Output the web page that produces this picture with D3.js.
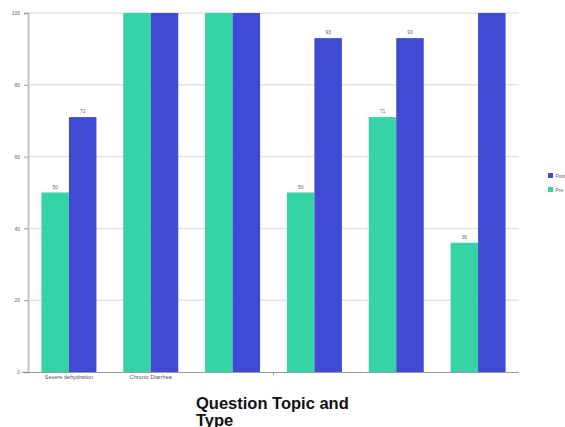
<!DOCTYPE html>
<html>
<head>
<meta charset="utf-8">
<script src="https://cdn.jsdelivr.net/npm/d3@7"></script>
<style>
  html, body { margin: 0; padding: 0; background: #fff; }
  svg { display: block; }
</style>
</head>
<body>
<svg id="chart" width="565" height="427"></svg>
<script>
// Question groups (only the first two carry a visible label)
const groups = ["g1", "g2", "g3", "g4", "g5", "g6"];
const groupLabels = ["Severe dehydration", "Chronic Diarrhea", "", "", "", ""];
// Scores per group, in percent
const preValues = [50, 100, 100, 50, 71, 36];
const postValues = [71, 100, 100, 93, 93, 100];
// Values printed above bars (null = no label)
const preLabels = [50, null, null, 50, 71, 36];
const postLabels = [71, null, null, 93, 93, null];
const seriesNames = ["Pre", "Post"];
const yTicks = [0, 20, 40, 60, 80, 100];

const colors = { Pre: "#35d3a5", Post: "#404ad2" };

const svg = d3.select("#chart");
const plotLeft = 28, plotRight = 519, plotTop = 13, plotBottom = 372;

const x = d3.scaleBand().domain(groups).range([plotLeft, plotRight])
  .paddingInner(0.328).paddingOuter(0.164);
const xSub = d3.scaleBand().domain(seriesNames).range([0, x.bandwidth()]);
const y = d3.scaleLinear().domain([0, 100]).range([plotBottom, plotTop]);

// horizontal grid
svg.append("g")
  .selectAll("line").data(yTicks.filter(d => d > 0)).join("line")
  .attr("x1", plotLeft).attr("x2", plotRight)
  .attr("y1", d => y(d)).attr("y2", d => y(d))
  .attr("stroke", "#e4e4e4").attr("stroke-width", 1.5);

// bars
const rows = groups.map((g, i) => ({ g, i }));
const series = [
  { name: "Pre", values: preValues, labels: preLabels },
  { name: "Post", values: postValues, labels: postLabels }
];
series.forEach(s => {
  svg.append("g").selectAll("rect").data(rows).join("rect")
    .attr("x", d => x(d.g) + xSub(s.name))
    .attr("y", d => y(s.values[d.i]))
    .attr("width", xSub.bandwidth())
    .attr("height", d => y(0) - y(s.values[d.i]))
    .attr("fill", colors[s.name]);
  svg.append("g").selectAll("text").data(rows.filter(d => s.labels[d.i] !== null)).join("text")
    .attr("x", d => x(d.g) + xSub(s.name) + xSub.bandwidth() / 2)
    .attr("y", d => y(s.labels[d.i]) - 4)
    .attr("text-anchor", "middle")
    .attr("font-family", "Liberation Sans, Arial, sans-serif")
    .attr("font-size", 5)
    .attr("fill", "#666")
    .text(d => s.labels[d.i]);
});

// y axis
const yAxis = svg.append("g").attr("transform", `translate(${plotLeft},0)`)
  .call(d3.axisLeft(y).tickValues(yTicks).tickSize(4).tickPadding(4));
yAxis.select(".domain").attr("stroke", "#c4c4c4").attr("stroke-width", 2);
yAxis.selectAll(".tick line").attr("stroke", "#999");
yAxis.selectAll("text").attr("font-family", "Liberation Sans, Arial, sans-serif")
  .attr("font-size", 5).attr("fill", "#666");

// x axis
const xAxis = svg.append("g").attr("transform", `translate(0,${plotBottom})`)
  .call(d3.axisBottom(x).tickFormat((d, i) => groupLabels[i]).tickSize(0).tickPadding(3));
xAxis.select(".domain").attr("d", `M${plotLeft - 6},0.5H${plotRight}`)
  .attr("stroke", "#999").attr("stroke-width", 1.2);
xAxis.selectAll("text").attr("font-family", "Liberation Sans, Arial, sans-serif")
  .attr("font-size", 5.6).attr("fill", "#555");
// small divider tick between the third and fourth groups
const divX = x(groups[3]) - x.step() * x.paddingInner() / 2;
xAxis.append("line").attr("x1", divX).attr("x2", divX).attr("y1", 0).attr("y2", 3)
  .attr("stroke", "#999");

// legend
const legend = svg.append("g").attr("transform", "translate(548,173)");
["Post", "Pre"].forEach((name, i) => {
  legend.append("rect").attr("x", 0).attr("y", i * 14).attr("width", 5).attr("height", 5)
    .attr("fill", colors[name]);
  legend.append("text").attr("x", 7.5).attr("y", i * 14 + 4.5)
    .attr("font-family", "Liberation Sans, Arial, sans-serif")
    .attr("font-size", 5).attr("fill", "#666").text(name);
});

// axis title
const title = svg.append("text")
  .attr("font-family", "Liberation Sans, Arial, sans-serif")
  .attr("font-weight", "bold").attr("font-size", 16.5).attr("fill", "#111");
title.append("tspan").attr("x", 196).attr("y", 409).text("Question Topic and");
title.append("tspan").attr("x", 196).attr("y", 425.5).text("Type");
</script>
</body>
</html>
